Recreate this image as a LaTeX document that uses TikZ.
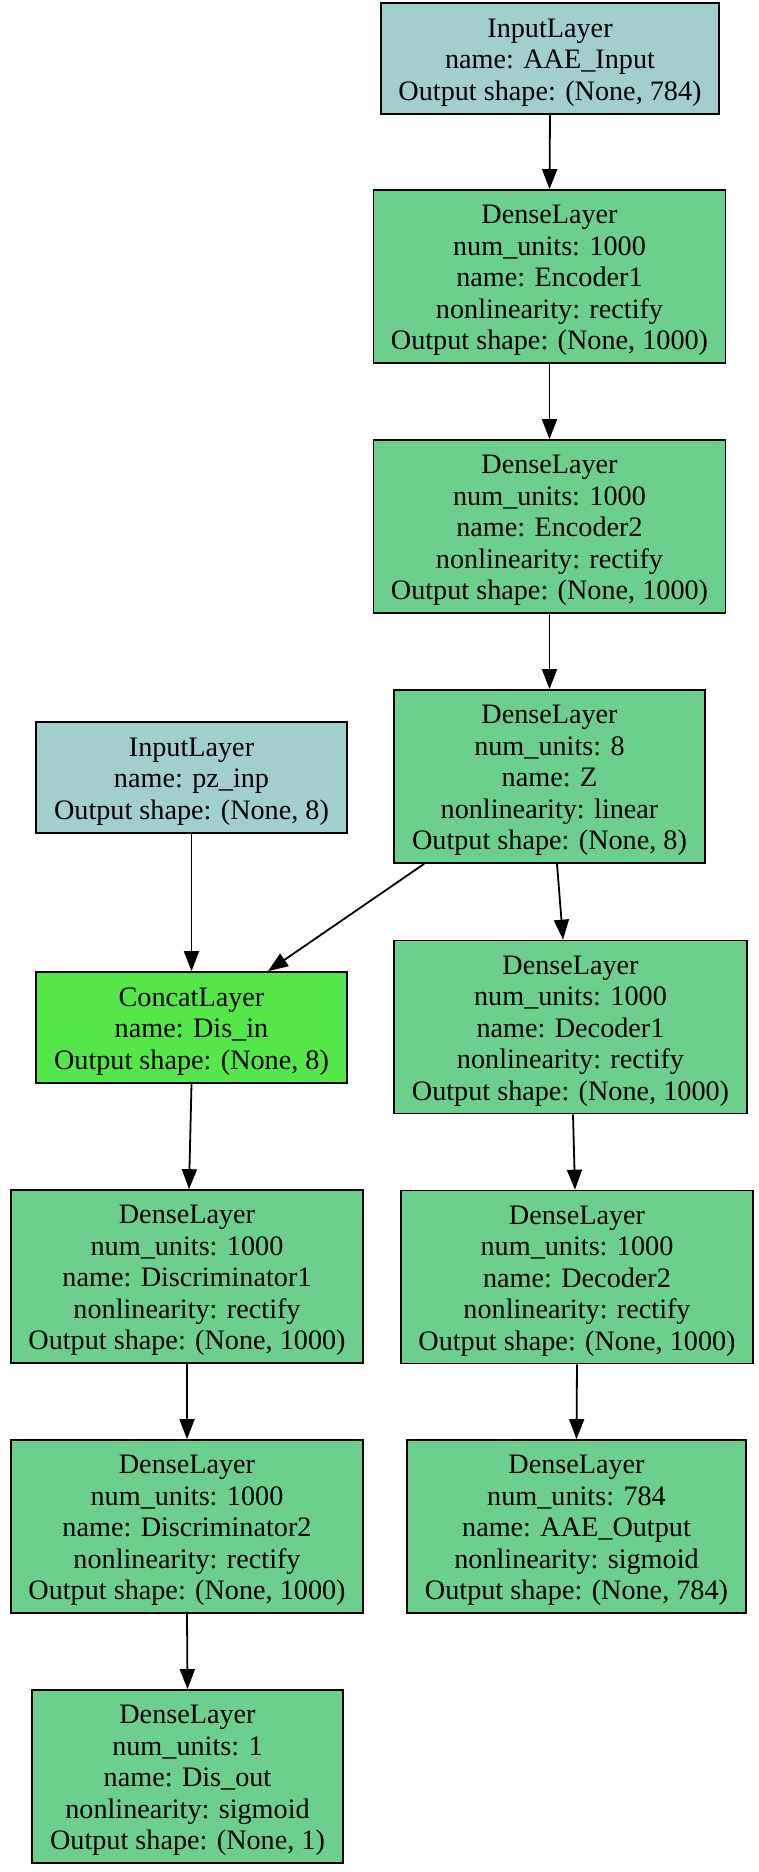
\documentclass[tikz,border=0pt]{standalone}
\usepackage{fontspec}
\setmainfont{Liberation Serif}
\usetikzlibrary{arrows.meta}
\definecolor{inputcol}{HTML}{A2CECE}
\definecolor{densecol}{HTML}{6CCF8D}
\definecolor{concatcol}{HTML}{55E64A}
\newcommand\fs{\rule{0pt}{26pt}}
\begin{document}
\begin{tikzpicture}[x=1pt,y=-1pt,
  layer/.style={draw=black, line width=1.7pt, rectangle, inner sep=0pt, align=center,
    font=\fontsize{28.2}{31.5}\selectfont},
  inbox/.style={layer, fill=inputcol, minimum height=111pt},
  densebox/.style={layer, fill=densecol, minimum height=173pt},
  catbox/.style={layer, fill=concatcol, minimum height=111pt},
  conn/.style={line width=1.8pt, -{Triangle[length=20pt,width=15pt]}}]
\useasboundingbox (0,0) rectangle (759,1872);
\fill[white] (0,0) rectangle (759,1872);

\node[inbox, minimum width=338pt] (in1) at (550,58.5)
  {\fs InputLayer\\name: AAE\_Input\\Output shape: (None, 784)};
\node[densebox, minimum width=352pt] (enc1) at (549.5,276.5)
  {\fs DenseLayer\\num\_units: 1000\\name: Encoder1\\nonlinearity: rectify\\Output shape: (None, 1000)};
\node[densebox, minimum width=352pt] (enc2) at (549.5,526.5)
  {\fs DenseLayer\\num\_units: 1000\\name: Encoder2\\nonlinearity: rectify\\Output shape: (None, 1000)};
\node[densebox, minimum width=311pt] (z) at (549.5,776.5)
  {\fs DenseLayer\\num\_units: 8\\name: Z\\nonlinearity: linear\\Output shape: (None, 8)};
\node[inbox, minimum width=311pt] (pz) at (191.5,777.5)
  {\fs InputLayer\\name: pz\_inp\\Output shape: (None, 8)};
\node[catbox, minimum width=311pt] (disin) at (191.5,1027.5)
  {\fs ConcatLayer\\name: Dis\_in\\Output shape: (None, 8)};
\node[densebox, minimum width=353pt] (dec1) at (570.5,1027)
  {\fs DenseLayer\\num\_units: 1000\\name: Decoder1\\nonlinearity: rectify\\Output shape: (None, 1000)};
\node[densebox, minimum width=352pt] (disc1) at (187,1276.5)
  {\fs DenseLayer\\num\_units: 1000\\name: Discriminator1\\nonlinearity: rectify\\Output shape: (None, 1000)};
\node[densebox, minimum width=352pt] (dec2) at (577,1277)
  {\fs DenseLayer\\num\_units: 1000\\name: Decoder2\\nonlinearity: rectify\\Output shape: (None, 1000)};
\node[densebox, minimum width=352pt] (disc2) at (187,1526.5)
  {\fs DenseLayer\\num\_units: 1000\\name: Discriminator2\\nonlinearity: rectify\\Output shape: (None, 1000)};
\node[densebox, minimum width=339pt] (out) at (576.5,1526.5)
  {\fs DenseLayer\\num\_units: 784\\name: AAE\_Output\\nonlinearity: sigmoid\\Output shape: (None, 784)};
\node[densebox, minimum width=311pt] (disout) at (187.5,1776.5)
  {\fs DenseLayer\\num\_units: 1\\name: Dis\_out\\nonlinearity: sigmoid\\Output shape: (None, 1)};

\draw[conn] (in1.south) -- (enc1.north);
\draw[conn] (enc1.south) -- (enc2.north);
\draw[conn] (enc2.south) -- (z.north);
\draw[conn] (pz.south) -- (disin.north);
\draw[conn] ([xshift=31pt]z.south west) -- ([xshift=76.5pt]disin.north);
\draw[conn] ([xshift=7.5pt]z.south) -- ([xshift=-7.5pt]dec1.north);
\draw[conn] (disin.south) -- ([xshift=2pt]disc1.north);
\draw[conn] ([xshift=2.5pt]dec1.south) -- ([xshift=-2pt]dec2.north);
\draw[conn] (dec2.south) -- (out.north);
\draw[conn] (disc1.south) -- (disc2.north);
\draw[conn] (disc2.south) -- (disout.north);
\end{tikzpicture}
\end{document}
